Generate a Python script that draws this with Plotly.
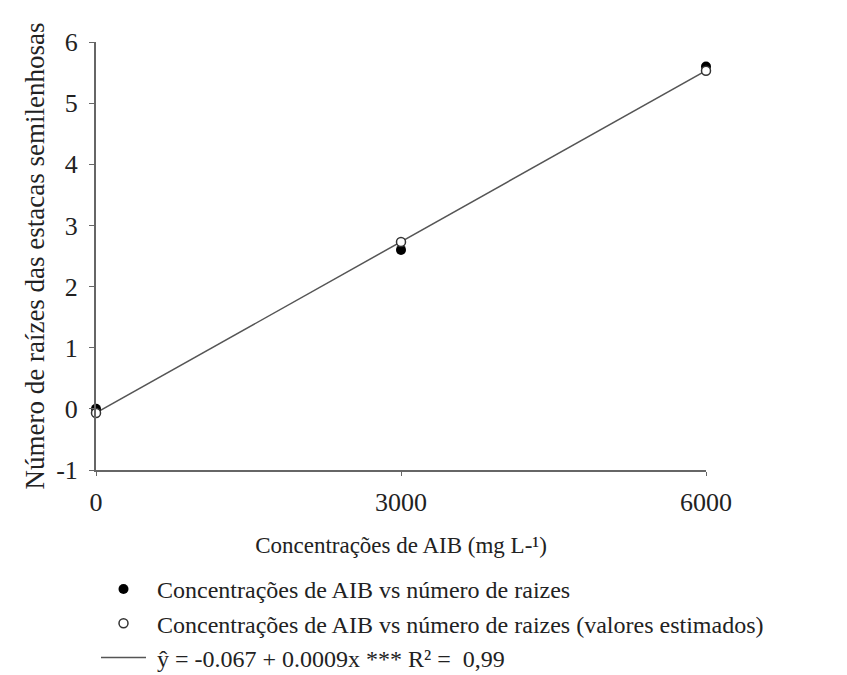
import plotly.graph_objects as go

# Data
conc = [0, 3000, 6000]
observed = [0.0, 2.6, 5.6]
estimated = [-0.067, 2.73, 5.53]
fit_x = [0, 6000]
fit_y = [-0.067, 5.533]
x_ticks = [0, 3000, 6000]
x_ticklabels = ["0", "3000", "6000"]
y_ticks = [-1, 0, 1, 2, 3, 4, 5, 6]
y_ticklabels = ["-1", "0", "1", "2", "3", "4", "5", "6"]

name_obs = "\u00a0Concentrações de AIB vs número de raizes"
name_est = "\u00a0Concentrações de AIB vs número de raizes (valores estimados)"
name_fit = "\u00a0ŷ = -0.067 + 0.0009x *** R² =  0,99"

FONT = "Liberation Serif, Times New Roman, serif"
TXT = "#222222"

fig = go.Figure()
fig.add_trace(go.Scatter(
    x=fit_x, y=fit_y, mode="lines", name=name_fit, legendrank=3,
    line=dict(color="#555555", width=1.5),
    cliponaxis=False,
))
fig.add_trace(go.Scatter(
    x=conc, y=observed, mode="markers", name=name_obs, legendrank=1,
    marker=dict(symbol="circle", size=10, color="black"),
    cliponaxis=False,
))
fig.add_trace(go.Scatter(
    x=conc, y=estimated, mode="markers", name=name_est, legendrank=2,
    marker=dict(symbol="circle", size=9, color="white",
                line=dict(color="#333333", width=1.5)),
    cliponaxis=False,
))

fig.update_layout(
    width=847, height=675,
    margin=dict(l=88, r=149, t=34, b=213, autoexpand=False),
    plot_bgcolor="white", paper_bgcolor="white",
    font=dict(family=FONT, color=TXT, size=24),
    showlegend=True,
    legend=dict(
        x=0.0, xref="paper", xanchor="left",
        y=0.172, yref="container", yanchor="top",
        traceorder="normal",
        font=dict(family=FONT, size=24, color=TXT),
        itemwidth=45, tracegroupgap=0,
        bgcolor="rgba(0,0,0,0)",
    ),
)
fig.update_xaxes(
    range=[0, 6000], tickvals=x_ticks, ticktext=x_ticklabels,
    showline=True, linecolor="#666666", linewidth=2,
    ticks="outside", ticklen=4, tickcolor="#666666", tickwidth=1,
    showgrid=False, zeroline=False, automargin=False,
    ticklabelstandoff=4,
    tickfont=dict(family=FONT, size=26, color=TXT),
    title=dict(text="Concentrações de AIB (mg L-¹)",
               font=dict(family=FONT, size=23, color=TXT), standoff=21),
)
fig.update_yaxes(
    range=[-1, 6], tickvals=y_ticks, ticktext=y_ticklabels,
    showline=True, linecolor="#666666", linewidth=2,
    ticks="outside", ticklen=5, tickcolor="#666666", tickwidth=1,
    showgrid=False, zeroline=False, automargin=False,
    ticklabelstandoff=6,
    tickfont=dict(family=FONT, size=26, color=TXT),
    title=dict(text="Número de raízes das estacas semilenhosas",
               font=dict(family=FONT, size=27, color=TXT), standoff=4),
)

fig.write_html("out.html")
